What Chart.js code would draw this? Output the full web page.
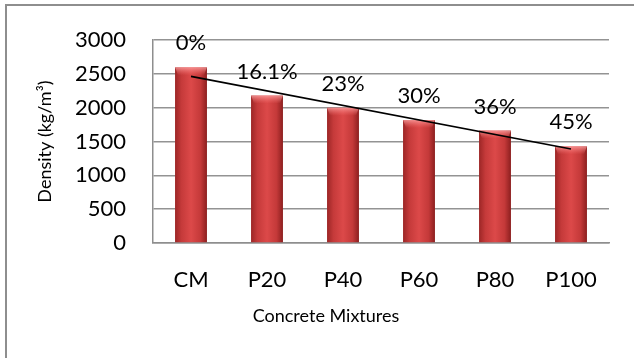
<!DOCTYPE html>
<html>
<head>
<meta charset="utf-8">
<script src="https://cdn.jsdelivr.net/npm/chart.js@4"></script>
<style>
  html, body { margin: 0; padding: 0; background: #fff; }
  #frame {
    position: absolute; left: 5px; top: 4px; width: 640px; height: 360px;
    border-left: 2px solid #8e8e8e; border-top: 2px solid #8e8e8e;
  }
  #wrap { position: absolute; left: 0; top: 0; width: 634px; height: 358px; }
</style>
</head>
<body>
<div id="frame"></div>
<div id="wrap"><canvas id="c" width="634" height="358"></canvas></div>
<script>
// Density of each concrete mixture and its reduction relative to the control mix
const mixtures = ['CM', 'P20', 'P40', 'P60', 'P80', 'P100'];
const density = [2600, 2181, 2002, 1820, 1664, 1430];
const reductionLabels = ['0%', '16.1%', '23%', '30%', '36%', '45%'];
// Linear trend line, end points only
const trend = [2465, null, null, null, null, 1390];
const yMin = 0, yMax = 3000, yStep = 500;

const BAR_SHARE = 0.42;

// Horizontal shading across each bar: dark edges, bright middle
function barFill(context) {
  const chart = context.chart;
  const xs = chart.scales.x;
  if (!xs || context.type !== 'data' || !xs.width) return '#c83a3a';
  const cx = xs.getPixelForValue(context.dataIndex);
  const half = (xs.width / mixtures.length) * BAR_SHARE / 2;
  const g = chart.ctx.createLinearGradient(cx - half, 0, cx + half, 0);
  g.addColorStop(0, '#9c2626');
  g.addColorStop(0.2, '#c53a3a');
  g.addColorStop(0.5, '#dc4949');
  g.addColorStop(0.8, '#c43939');
  g.addColorStop(1, '#8c1f1f');
  return g;
}

// Light bevel along the top of every bar
const barBevel = {
  id: 'barBevel',
  afterDatasetDraw(chart, args) {
    if (args.index !== 0) return;
    const c = chart.ctx;
    c.save();
    args.meta.data.forEach(bar => {
      const l = bar.x - bar.width / 2, r = bar.x + bar.width / 2, t = bar.y;
      const g = c.createLinearGradient(0, t, 0, t + 8);
      g.addColorStop(0, 'rgba(255,170,170,0.75)');
      g.addColorStop(1, 'rgba(255,120,120,0)');
      c.fillStyle = g;
      c.beginPath();
      c.moveTo(l, t); c.lineTo(r, t); c.lineTo(r - 3, t + 8); c.lineTo(l + 3, t + 8);
      c.closePath();
      c.fill();
    });
    c.restore();
  }
};

// Reduction percentages written above the bars
const reductionText = {
  id: 'reductionText',
  afterDatasetsDraw(chart) {
    const meta = chart.getDatasetMeta(0);
    const c = chart.ctx;
    c.save();
    c.font = '22px Lato';
    c.fillStyle = '#000';
    c.textAlign = 'center';
    c.textBaseline = 'middle';
    meta.data.forEach((bar, i) => c.fillText(reductionLabels[i], bar.x, bar.y - 24));
    c.restore();
  }
};

function draw() {
  Chart.defaults.font.family = 'Lato';
  Chart.defaults.color = '#000';
  new Chart(document.getElementById('c'), {
    data: {
      labels: mixtures,
      datasets: [
        {
          type: 'bar',
          data: density,
          backgroundColor: barFill,
          borderWidth: 0,
          categoryPercentage: 1,
          barPercentage: BAR_SHARE,
          order: 1
        },
        {
          type: 'line',
          data: trend,
          spanGaps: true,
          borderColor: '#000',
          borderWidth: 1.6,
          pointRadius: 0,
          fill: false,
          order: 0
        }
      ]
    },
    options: {
      responsive: false,
      animation: false,
      devicePixelRatio: 1,
      layout: { padding: { left: 43, right: 25, top: 36, bottom: 31 } },
      plugins: {
        legend: { display: false },
        tooltip: { enabled: false },
        title: {
          display: true,
          position: 'bottom',
          text: 'Concrete Mixtures',
          color: '#000',
          font: { size: 18, weight: 'normal' },
          padding: 0
        }
      },
      scales: {
        x: {
          grid: { display: false, drawTicks: false },
          border: { color: '#8e8e8e', width: 1.5 },
          ticks: { padding: 24, color: '#000', font: { size: 22 } },
          afterFit(s) { s.height = 62.4; }
        },
        y: {
          min: yMin,
          max: yMax,
          ticks: {
            stepSize: yStep,
            padding: 27,
            color: '#000',
            font: { size: 22 },
            callback: v => String(v)
          },
          grid: { color: '#939393', lineWidth: 1.5, drawTicks: false },
          border: { color: '#8e8e8e', width: 1.5 },
          title: {
            display: true,
            text: 'Density (kg/m³)',
            color: '#000',
            font: { size: 18 },
            padding: { top: -9, bottom: 0 }
          },
          afterFit(s) { s.width = 110; }
        }
      }
    },
    plugins: [barBevel, reductionText]
  });
}

(document.fonts ? document.fonts.load('22px Lato').catch(() => {}) : Promise.resolve()).then(draw);
</script>
</body>
</html>
